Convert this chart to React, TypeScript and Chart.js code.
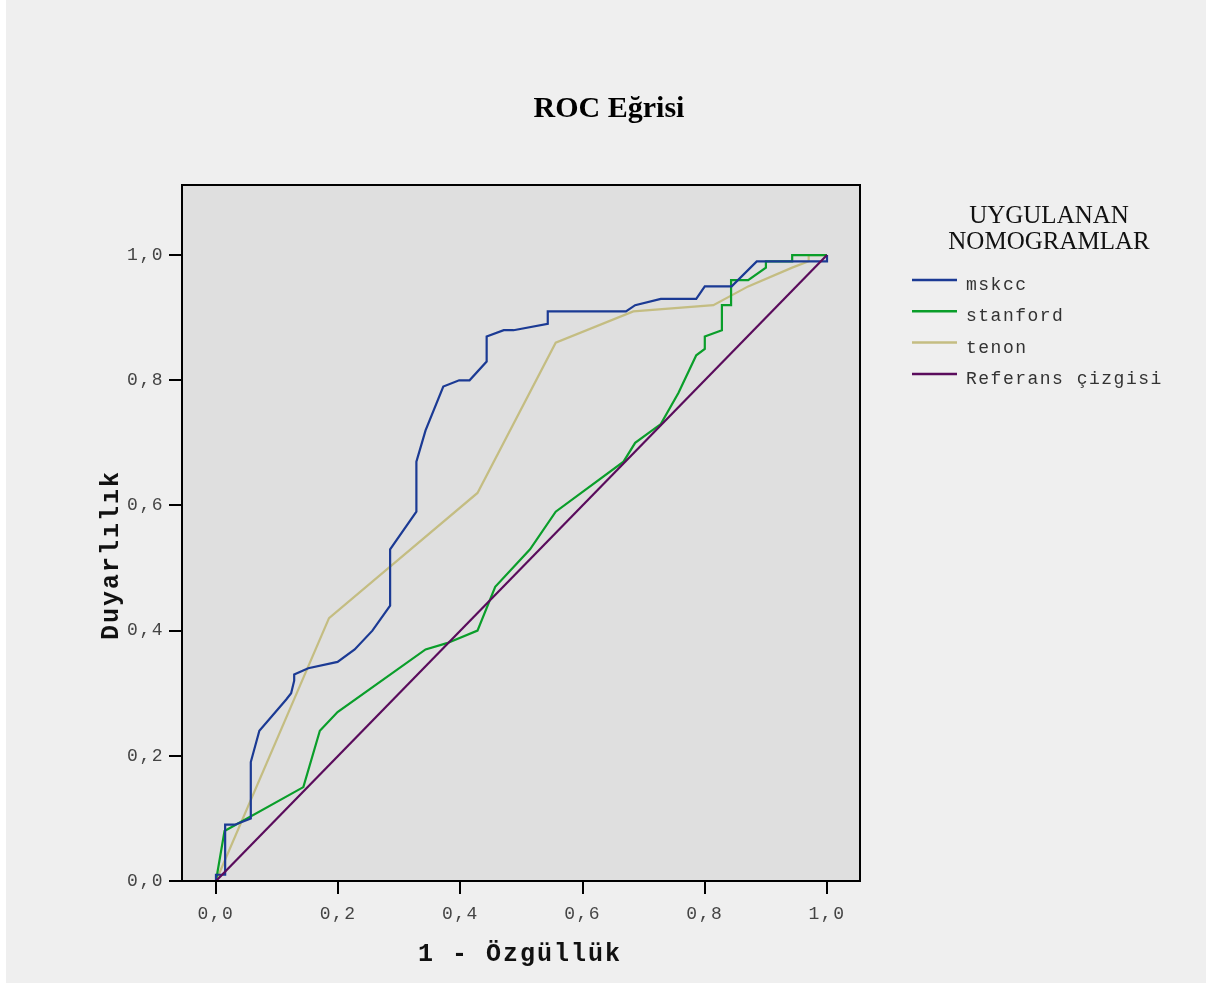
import React, { useEffect, useRef } from "react";
import { Chart, registerables } from "chart.js";

Chart.register(...registerables);

// ---- Data ----
const seriesLabels = ["mskcc", "stanford", "tenon", "Referans çizgisi"];
const seriesColors = ["#1b3a94", "#0a9e2a", "#c4bd82", "#5a0c5c"];

const mskccX = [0, 0, 0.015, 0.015, 0.031, 0.057, 0.057, 0.071, 0.115, 0.123, 0.128, 0.128, 0.151, 0.199, 0.227, 0.256, 0.285, 0.285, 0.328, 0.328, 0.343, 0.372, 0.398, 0.415, 0.443, 0.443, 0.471, 0.487, 0.543, 0.543, 0.671, 0.686, 0.728, 0.786, 0.8, 0.844, 0.885, 1.0, 1.0];
const mskccY = [0, 0.01, 0.01, 0.09, 0.09, 0.1, 0.19, 0.24, 0.29, 0.3, 0.32, 0.33, 0.34, 0.35, 0.37, 0.4, 0.44, 0.53, 0.59, 0.67, 0.72, 0.79, 0.8, 0.8, 0.83, 0.87, 0.88, 0.88, 0.89, 0.91, 0.91, 0.92, 0.93, 0.93, 0.95, 0.95, 0.99, 0.99, 1.0];

const stanfordX = [0, 0.014, 0.143, 0.17, 0.199, 0.343, 0.378, 0.428, 0.457, 0.514, 0.556, 0.667, 0.686, 0.728, 0.757, 0.786, 0.8, 0.8, 0.828, 0.828, 0.843, 0.843, 0.871, 0.9, 0.9, 0.943, 0.943, 1.0];
const stanfordY = [0, 0.08, 0.15, 0.24, 0.27, 0.37, 0.38, 0.4, 0.47, 0.53, 0.59, 0.67, 0.7, 0.73, 0.78, 0.84, 0.85, 0.87, 0.88, 0.92, 0.92, 0.96, 0.96, 0.98, 0.99, 0.99, 1.0, 1.0];

const tenonX = [0, 0.185, 0.428, 0.556, 0.683, 0.814, 0.871, 0.943, 0.97, 0.97, 1.0];
const tenonY = [0, 0.42, 0.62, 0.86, 0.91, 0.92, 0.95, 0.98, 0.99, 1.0, 1.0];

const refX = [0, 1];
const refY = [0, 1];

const xTickValues = [0, 0.2, 0.4, 0.6, 0.8, 1.0];
const xTickLabels = ["0,0", "0,2", "0,4", "0,6", "0,8", "1,0"];
const yTickValues = [0, 0.2, 0.4, 0.6, 0.8, 1.0];
const yTickLabels = ["0,0", "0,2", "0,4", "0,6", "0,8", "1,0"];

const chartTitle = "ROC Eğrisi";
const xTitle = "1 - Özgüllük";
const yTitle = "Duyarlılık";
const legendTitle = ["UYGULANAN", "NOMOGRAMLAR"];

const W = 1226;
const H = 985;

const toPoints = (xs: number[], ys: number[]) => xs.map((x, i) => ({ x, y: ys[i] }));

const decorPlugin = {
  id: "decor",
  beforeDraw(chart: any) {
    const ctx = chart.ctx as CanvasRenderingContext2D;
    const a = chart.chartArea;
    ctx.save();
    ctx.fillStyle = "#ffffff";
    ctx.fillRect(0, 0, W, H);
    ctx.fillStyle = "#efefef";
    ctx.fillRect(6, 0, 1200, 983);
    ctx.fillStyle = "#dfdfdf";
    ctx.fillRect(a.left, a.top, a.right - a.left, a.bottom - a.top);
    ctx.restore();
    (ctx as any).letterSpacing = "1.5px";
  },
  afterDraw(chart: any) {
    const ctx = chart.ctx as CanvasRenderingContext2D;
    const a = chart.chartArea;
    ctx.save();
    (ctx as any).letterSpacing = "0px";
    // plot frame
    ctx.strokeStyle = "#000";
    ctx.lineWidth = 2;
    ctx.strokeRect(a.left, a.top, a.right - a.left, a.bottom - a.top);

    // title
    ctx.fillStyle = "#000";
    ctx.font = 'bold 30px "Liberation Serif"';
    ctx.textAlign = "center";
    ctx.textBaseline = "alphabetic";
    ctx.fillText(chartTitle, 609, 117);

    // axis titles
    (ctx as any).letterSpacing = "2px";
    ctx.fillStyle = "#111";
    ctx.font = 'bold 25px "Liberation Mono"';
    ctx.fillText(xTitle, 520, 961);
    ctx.save();
    ctx.translate(118, 555);
    ctx.rotate(-Math.PI / 2);
    ctx.fillText(yTitle, 0, 0);
    ctx.restore();

    // legend
    (ctx as any).letterSpacing = "0px";
    ctx.fillStyle = "#111";
    ctx.font = '25px "Liberation Serif"';
    ctx.textAlign = "center";
    ctx.fillText(legendTitle[0], 1049, 223);
    ctx.fillText(legendTitle[1], 1049, 249);

    (ctx as any).letterSpacing = "1.5px";
    ctx.font = '18px "Liberation Mono"';
    ctx.textAlign = "left";
    ctx.fillStyle = "#333";
    seriesLabels.forEach((lab, i) => {
      const y = 280 + i * 31.3;
      ctx.strokeStyle = seriesColors[i];
      ctx.lineWidth = 2.5;
      ctx.beginPath();
      ctx.moveTo(912, y);
      ctx.lineTo(957, y);
      ctx.stroke();
      ctx.fillText(lab, 966, y + 10);
    });
    ctx.restore();
    (ctx as any).letterSpacing = "0px";
  },
};

export default function App() {
  const ref = useRef<HTMLCanvasElement | null>(null);

  useEffect(() => {
    if (!ref.current) return;
    const mk = (i: number, xs: number[], ys: number[], order: number) => ({
      label: seriesLabels[i],
      data: toPoints(xs, ys),
      borderColor: seriesColors[i],
      backgroundColor: seriesColors[i],
      borderWidth: 2.2,
      showLine: true,
      pointRadius: 0,
      tension: 0,
      order,
    });
    const chart = new Chart(ref.current, {
      type: "scatter",
      data: {
        datasets: [
          mk(0, mskccX, mskccY, 1),
          mk(1, stanfordX, stanfordY, 2),
          mk(2, tenonX, tenonY, 3),
          mk(3, refX, refY, 0),
        ],
      },
      options: {
        responsive: false,
        animation: false,
        devicePixelRatio: 1,
        layout: { padding: { top: 185, right: 366, left: 0, bottom: 0 } },
        plugins: {
          legend: { display: false },
          title: { display: false },
          tooltip: { enabled: false },
        },
        scales: {
          x: {
            type: "linear",
            min: -0.0556,
            max: 1.054,
            afterBuildTicks: (s: any) => {
              s.ticks = xTickValues.map((v) => ({ value: v }));
            },
            afterFit: (s: any) => {
              s.height = 104;
            },
            grid: {
              display: true,
              drawOnChartArea: false,
              drawTicks: true,
              tickLength: 13,
              color: "#000",
              lineWidth: 2,
            },
            border: { display: false },
            ticks: {
              font: { family: "Liberation Mono", size: 18 },
              color: "#444",
              padding: 9,
              maxRotation: 0,
              autoSkip: false,
              callback: (_v: any, i: number) => xTickLabels[i],
            },
          },
          y: {
            type: "linear",
            min: 0,
            max: 1.112,
            afterBuildTicks: (s: any) => {
              s.ticks = yTickValues.map((v) => ({ value: v }));
            },
            afterFit: (s: any) => {
              s.width = 182;
            },
            grid: {
              display: true,
              drawOnChartArea: false,
              drawTicks: true,
              tickLength: 13,
              color: "#000",
              lineWidth: 2,
            },
            border: { display: false },
            ticks: {
              font: { family: "Liberation Mono", size: 18 },
              color: "#444",
              padding: 5,
              autoSkip: false,
              callback: (_v: any, i: number) => yTickLabels[i],
            },
          },
        },
      },
      plugins: [decorPlugin],
    } as any);
    return () => chart.destroy();
  }, []);

  return (
    <div style={{ position: "absolute", left: 0, top: 0, width: W, height: H, background: "#fff" }}>
      <canvas ref={ref} width={W} height={H} style={{ display: "block", width: W, height: H }} />
    </div>
  );
}
